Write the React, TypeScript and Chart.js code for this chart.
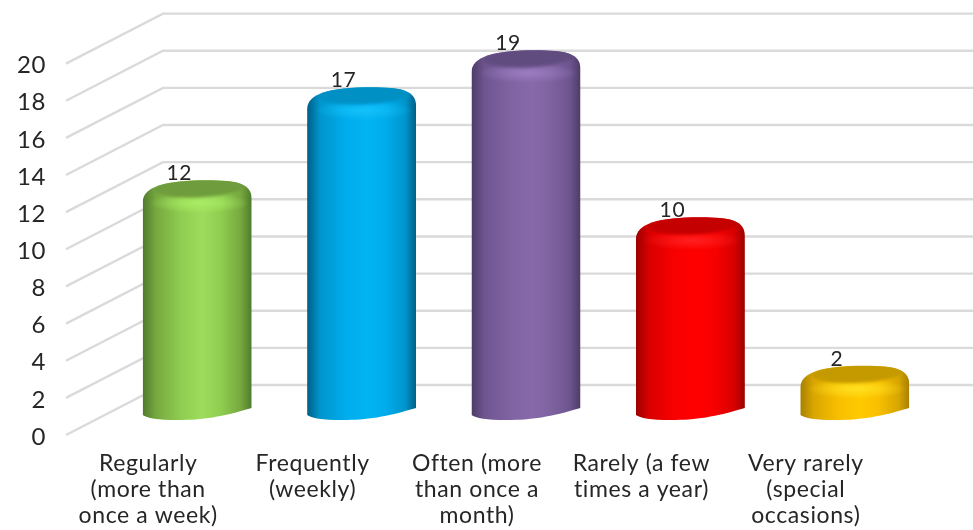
import React, { useEffect, useRef } from "react";
import { Chart, registerables } from "chart.js";

Chart.register(...registerables);

const categories = [
  ["Regularly", "(more than", "once a week)"],
  ["Frequently", "(weekly)"],
  ["Often (more", "than once a", "month)"],
  ["Rarely (a few", "times a year)"],
  ["Very rarely", "(special", "occasions)"],
];
const responses = [12, 17, 19, 10, 2];
const baseColors = ["#8fcd50", "#00acec", "#7f63a1", "#f80000", "#f8bf00"];
const lightColors = ["#9ddc5c", "#02b4f3", "#8769aa", "#ff0000", "#ffca00"];
const glowColors = ["#a9ec63", "#14c0f8", "#9a7cc0", "#ff2020", "#ffe020"];
const midColors = ["#76a83f", "#0095cc", "#6e5590", "#d80000", "#d8a600"];
const darkColors = ["#4f7a2e", "#005f86", "#4d3c66", "#9c0000", "#a88000"];
const capColors = ["#6f9c3c", "#0090c4", "#614c80", "#c40000", "#c49a00"];

const TEXT = "#262626";
const FONT = "Lato";
const WALL_DX = 97;
const WALL_DY = 50;
const BAR_DX = 49;
const BAR_TOP_LIFT = 32;
const BAR_BASE_LIFT = 15;

// Outline of a tilted cylinder with a rounded shoulder
function silhouette(ctx: CanvasRenderingContext2D, x0: number, w: number, t: number, b: number) {
  const x1 = x0 + w;
  ctx.beginPath();
  ctx.moveTo(x0, t + 22);
  ctx.bezierCurveTo(x0, t + 6, x0 + 24, t, x0 + 64, t);
  ctx.bezierCurveTo(x0 + 94, t, x1, t + 3, x1, t + 19);
  ctx.lineTo(x1, b - 12);
  ctx.bezierCurveTo(x1 - 30, b - 3, x0 + 60, b, x0 + 35, b);
  ctx.bezierCurveTo(x0 + 15, b, x0 + 4, b - 2, x0, b - 5);
  ctx.closePath();
}

const cylinderPlugin = {
  id: "cylinders",
  beforeDraw(chart: any) {
    (chart.ctx as any).letterSpacing = "0.6px";
  },
  beforeDatasetsDraw(chart: any) {
    const { ctx, scales } = chart;
    const y = scales.y;
    const left = chart.chartArea.left;
    ctx.save();
    ctx.strokeStyle = "#dadada";
    ctx.lineWidth = 2.4;
    y.ticks.forEach((tick: any) => {
      const py = y.getPixelForValue(tick.value);
      ctx.beginPath();
      ctx.moveTo(left, py);
      ctx.lineTo(left + WALL_DX, py - WALL_DY);
      ctx.lineTo(chart.width, py - WALL_DY);
      ctx.stroke();
    });
    ctx.restore();
  },
  beforeDatasetDraw(chart: any, args: any) {
    const { ctx } = chart;
    const meta = chart.getDatasetMeta(args.index);
    meta.data.forEach((bar: any, i: number) => {
      const w = bar.width;
      const x0 = bar.x + BAR_DX - w / 2;
      const t = bar.y - BAR_TOP_LIFT;
      const b = bar.base - BAR_BASE_LIFT;
      ctx.save();
      silhouette(ctx, x0, w, t, b);
      ctx.clip();

      const body = ctx.createLinearGradient(x0, 0, x0 + w, 0);
      body.addColorStop(0, darkColors[i]);
      body.addColorStop(0.12, midColors[i]);
      body.addColorStop(0.35, baseColors[i]);
      body.addColorStop(0.55, lightColors[i]);
      body.addColorStop(0.72, baseColors[i]);
      body.addColorStop(0.9, midColors[i]);
      body.addColorStop(1, darkColors[i]);
      ctx.fillStyle = body;
      ctx.fillRect(x0, t, w, b - t);

      // glossy highlight on the rounded shoulder
      ctx.save();
      ctx.translate(x0 + w * 0.52, t + 23);
      ctx.scale(1, 0.2);
      const glow = ctx.createRadialGradient(0, 0, 0, 0, 0, w * 0.46);
      glow.addColorStop(0, glowColors[i]);
      glow.addColorStop(1, glowColors[i] + "00");
      ctx.fillStyle = glow;
      ctx.fillRect(-w, -w, 2 * w, 2 * w);
      ctx.restore();

      // recessed top face
      ctx.save();
      ctx.translate(x0 + w * 0.53, t + 7);
      ctx.rotate(-0.05);
      ctx.filter = "blur(1.5px)";
      ctx.fillStyle = capColors[i];
      ctx.beginPath();
      ctx.ellipse(0, 0, w * 0.43, 10, 0, 0, Math.PI * 2);
      ctx.fill();
      ctx.restore();

      ctx.restore();
    });
    return false;
  },
  afterDatasetsDraw(chart: any) {
    const { ctx } = chart;
    const meta = chart.getDatasetMeta(0);
    ctx.save();
    ctx.fillStyle = TEXT;
    ctx.font = `21px ${FONT}`;
    ctx.textAlign = "center";
    ctx.textBaseline = "alphabetic";
    meta.data.forEach((bar: any, i: number) => {
      ctx.fillText(String(responses[i]), bar.x + BAR_DX - 18, bar.y - BAR_TOP_LIFT);
    });
    ctx.restore();
  },
};

export default function App() {
  const ref = useRef<HTMLCanvasElement>(null);
  useEffect(() => {
    const chart = new Chart(ref.current!, {
      type: "bar",
      data: {
        labels: categories,
        datasets: [{ data: responses, backgroundColor: baseColors, barPercentage: 0.663, categoryPercentage: 1 }],
      },
      options: {
        animation: false,
        responsive: false,
        layout: { padding: { top: 63.6, right: 85, left: 0, bottom: 0 } },
        plugins: { legend: { display: false }, tooltip: { enabled: false } },
        scales: {
          x: {
            grid: { display: false },
            border: { display: false },
            afterFit: (s: any) => { s.height = 95; },
            ticks: {
              color: TEXT,
              font: { family: FONT, size: 23, lineHeight: 1.13 },
              maxRotation: 0,
              autoSkip: false,
              padding: 8,
            },
          },
          y: {
            min: 0,
            max: 20,
            grid: { display: false },
            border: { display: false },
            afterFit: (s: any) => { s.width = 66; },
            ticks: {
              stepSize: 2,
              color: TEXT,
              font: { family: FONT, size: 24 },
              padding: 12,
              labelOffset: 2,
            },
          },
        },
      },
      plugins: [cylinderPlugin],
    } as any);
    return () => chart.destroy();
  }, []);
  return (
    <div style={{ position: "fixed", left: 0, top: 0 }}>
      <canvas ref={ref} width={973} height={530} style={{ display: "block" }} />
    </div>
  );
}
